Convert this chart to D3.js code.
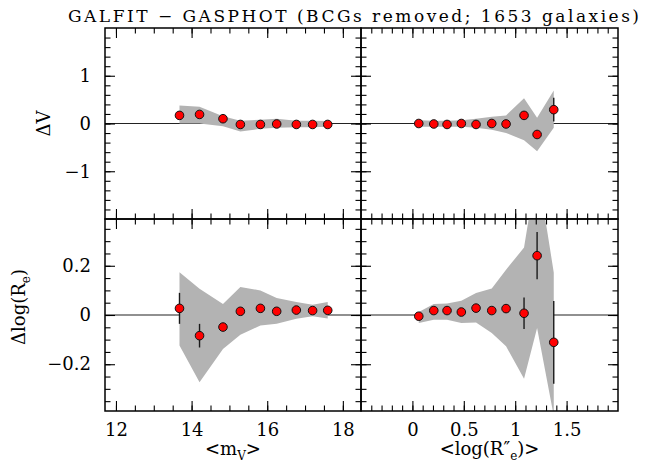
<!DOCTYPE html>
<html><head><meta charset="utf-8">
<script src="https://cdn.jsdelivr.net/npm/d3@7"></script>
<style>
html,body{margin:0;padding:0;background:#fff;}
svg text{font-family:"DejaVu Serif",serif;fill:#000;}
</style></head>
<body>
<svg id="c" width="656" height="470"></svg>
<script>
// ---------------- data ----------------
const titleText = "GALFIT \u2212 GASPHOT (BCGs removed; 1653 galaxies)";

// x bins
const mV    = [13.68, 14.21, 14.83, 15.29, 15.82, 16.25, 16.77, 17.20, 17.60];
const logRe = [0.062, 0.208, 0.337, 0.476, 0.619, 0.772, 0.911, 1.086, 1.213, 1.375];

// Delta V vs m_V
const dV_mV      = [0.17, 0.19, 0.10, -0.02, -0.02, -0.01, -0.02, -0.02, -0.02];
const dV_mV_hi   = [0.377, 0.35, 0.15, 0.06, 0.08, 0.10, 0.06, 0.06, 0.05];
const dV_mV_lo   = [0.0, 0.0, -0.06, -0.17, -0.11, -0.09, -0.08, -0.08, -0.07];
const dV_mV_err  = [0.02, 0.02, 0.02, 0.01, 0.01, 0.01, 0.01, 0.01, 0.01];

// Delta V vs log Re
const dV_lr      = [0.0, -0.01, -0.02, 0.0, -0.02, 0.0, -0.01, 0.17, -0.23, 0.29];
const dV_lr_hi   = [0.07, 0.06, 0.06, 0.07, 0.10, 0.14, 0.17, 0.53, 0.12, 0.69];
const dV_lr_lo   = [-0.07, -0.07, -0.07, -0.07, -0.09, -0.13, -0.20, -0.35, -0.58, -0.09];
const dV_lr_err  = [0.01, 0.01, 0.01, 0.01, 0.01, 0.01, 0.01, 0.03, 0.06, 0.25];

// Delta log Re vs m_V
const dR_mV      = [0.027, -0.084, -0.049, 0.015, 0.027, 0.015, 0.020, 0.018, 0.019];
const dR_mV_hi   = [0.174, 0.107, 0.045, 0.114, 0.100, 0.069, 0.053, 0.042, 0.053];
const dR_mV_lo   = [-0.124, -0.273, -0.138, -0.080, -0.043, -0.036, -0.015, -0.005, -0.014];
const dR_mV_err  = [0.063, 0.048, 0.012, 0.005, 0.005, 0.004, 0.004, 0.004, 0.004];

// Delta log Re vs log Re
const dR_lr      = [-0.005, 0.018, 0.018, 0.012, 0.028, 0.018, 0.026, 0.007, 0.241, -0.111];
const dR_lr_hi   = [0.012, 0.045, 0.047, 0.058, 0.089, 0.108, 0.184, 0.274, 0.60, 0.173];
const dR_lr_lo   = [-0.032, -0.019, -0.019, -0.032, -0.030, -0.073, -0.127, -0.259, -0.053, -0.41];
const dR_lr_err  = [0.004, 0.005, 0.005, 0.005, 0.006, 0.008, 0.018, 0.064, 0.096, 0.168];

// ticks
const xL_major = [12, 14, 16, 18];
const xL_labels = ["12", "14", "16", "18"];
const xR_major = [0, 0.5, 1, 1.5];
const xR_labels = ["0", "0.5", "1", "1.5"];
const yT_major = [-1, 0, 1];
const yT_labels = ["\u22121", "0", "1"];
const yB_major = [-0.2, 0, 0.2];
const yB_labels = ["\u22120.2", "0", "0.2"];
const xL_minor = d3.range(12, 18.01, 0.5);
const xR_minor = d3.range(-0.4, 1.95, 0.1);
const yT_minor = d3.range(-1.8, 1.85, 0.2);
const yB_minor = d3.range(-0.35, 0.36, 0.05);

// ---------------- layout ----------------
const L = 105, M = 361, R = 618, T = 28, MY = 219, B = 411;
const svg = d3.select("#c");

const xL = d3.scaleLinear().domain([11.71, 18.48]).range([L, M]);
const xR = d3.scaleLinear().domain([-0.5, 2.0]).range([M, R]);
const yT = d3.scaleLinear().domain([-2, 2]).range([MY, T]);
const yB = d3.scaleLinear().domain([-0.39, 0.39]).range([B, MY]);

const panels = [
  {id:"p1", x:xL, y:yT, xs:mV,    v:dV_mV, hi:dV_mV_hi, lo:dV_mV_lo, err:dV_mV_err,
   xmaj:xL_major, xmin:xL_minor, ymaj:yT_major, ymin:yT_minor},
  {id:"p2", x:xR, y:yT, xs:logRe, v:dV_lr, hi:dV_lr_hi, lo:dV_lr_lo, err:dV_lr_err,
   xmaj:xR_major, xmin:xR_minor, ymaj:yT_major, ymin:yT_minor},
  {id:"p3", x:xL, y:yB, xs:mV,    v:dR_mV, hi:dR_mV_hi, lo:dR_mV_lo, err:dR_mV_err,
   xmaj:xL_major, xmin:xL_minor, ymaj:yB_major, ymin:yB_minor},
  {id:"p4", x:xR, y:yB, xs:logRe, v:dR_lr, hi:dR_lr_hi, lo:dR_lr_lo, err:dR_lr_err,
   xmaj:xR_major, xmin:xR_minor, ymaj:yB_major, ymin:yB_minor}
];

const defs = svg.append("defs");

panels.forEach(p => {
  const [x0, x1] = p.x.range();
  const [y1, y0] = p.y.range(); // y1 bottom, y0 top
  defs.append("clipPath").attr("id", "clip" + p.id)
    .append("rect").attr("x", x0).attr("y", y0).attr("width", x1 - x0).attr("height", y1 - y0);
  const g = svg.append("g").attr("clip-path", `url(#clip${p.id})`);
  // zero line
  g.append("line").attr("x1", x0).attr("x2", x1)
    .attr("y1", p.y(0)).attr("y2", p.y(0))
    .attr("stroke", "#222").attr("stroke-width", 1.2);
  // band
  const rows = p.xs.map((xv, i) => ({x: xv, v: p.v[i], hi: p.hi[i], lo: p.lo[i], e: p.err[i]}));
  const area = d3.area().x(d => p.x(d.x)).y0(d => p.y(d.lo)).y1(d => p.y(d.hi));
  g.append("path").datum(rows).attr("d", area).attr("fill", "#b3b3b3").attr("stroke", "none");
  // error bars
  g.selectAll("line.eb").data(rows).enter().append("line").attr("class", "eb")
    .attr("x1", d => p.x(d.x)).attr("x2", d => p.x(d.x))
    .attr("y1", d => p.y(d.v - d.e)).attr("y2", d => p.y(d.v + d.e))
    .attr("stroke", "#1a1a1a").attr("stroke-width", 1.4);
  // points
  g.selectAll("circle").data(rows).enter().append("circle")
    .attr("cx", d => p.x(d.x)).attr("cy", d => p.y(d.v)).attr("r", 4.3)
    .attr("fill", "#ff0000").attr("stroke", "#111").attr("stroke-width", 1);

  // ticks on all four sides, inward
  const ax = [];
  ax.push(svg.append("g").attr("transform", `translate(0,${y1})`)
    .call(d3.axisBottom(p.x).tickValues(p.xmaj).tickSize(-10).tickFormat("")));
  ax.push(svg.append("g").attr("transform", `translate(0,${y1})`)
    .call(d3.axisBottom(p.x).tickValues(p.xmin).tickSize(-5.5).tickFormat("")));
  ax.push(svg.append("g").attr("transform", `translate(0,${y0})`)
    .call(d3.axisTop(p.x).tickValues(p.xmaj).tickSize(-10).tickFormat("")));
  ax.push(svg.append("g").attr("transform", `translate(0,${y0})`)
    .call(d3.axisTop(p.x).tickValues(p.xmin).tickSize(-5.5).tickFormat("")));
  ax.push(svg.append("g").attr("transform", `translate(${x0},0)`)
    .call(d3.axisLeft(p.y).tickValues(p.ymaj).tickSize(-10).tickFormat("")));
  ax.push(svg.append("g").attr("transform", `translate(${x0},0)`)
    .call(d3.axisLeft(p.y).tickValues(p.ymin).tickSize(-5.5).tickFormat("")));
  ax.push(svg.append("g").attr("transform", `translate(${x1},0)`)
    .call(d3.axisRight(p.y).tickValues(p.ymaj).tickSize(-10).tickFormat("")));
  ax.push(svg.append("g").attr("transform", `translate(${x1},0)`)
    .call(d3.axisRight(p.y).tickValues(p.ymin).tickSize(-5.5).tickFormat("")));
  ax.forEach(a => {
    a.select(".domain").remove();
    a.selectAll("line").attr("stroke", "#000").attr("stroke-width", 1.1);
  });
  // frame
  svg.append("rect").attr("x", x0).attr("y", y0).attr("width", x1 - x0).attr("height", y1 - y0)
    .attr("fill", "none").attr("stroke", "#000").attr("stroke-width", 1.5);
});

// tick labels
function labelAxis(axisFn, scale, vals, labs, tr, pad) {
  const a = svg.append("g").attr("transform", tr)
    .call(axisFn(scale).tickValues(vals).tickSize(0).tickPadding(pad)
      .tickFormat((d, i) => labs[i]));
  a.select(".domain").remove();
  a.selectAll("text").style("font-family", "DejaVu Serif").style("font-size", "18px").attr("fill", "#000");
}
labelAxis(d3.axisBottom, xL, xL_major, xL_labels, `translate(0,${B})`, 12);
labelAxis(d3.axisBottom, xR, xR_major, xR_labels, `translate(0,${B})`, 12);
labelAxis(d3.axisLeft, yT, yT_major, yT_labels, `translate(${L},0)`, 14);
labelAxis(d3.axisLeft, yB, yB_major, yB_labels, `translate(${L},0)`, 14);

// title
svg.append("text").attr("x", 353.5).attr("y", 21.5).attr("text-anchor", "middle")
  .attr("font-size", 17).attr("textLength", 571).attr("lengthAdjust", "spacing")
  .text(titleText);

// x axis titles
const t1 = svg.append("text").attr("x", (L + M) / 2).attr("y", 455).attr("text-anchor", "middle").attr("font-size", 18);
t1.append("tspan").text("<m");
t1.append("tspan").attr("font-size", 12).attr("dy", 5).text("V");
t1.append("tspan").attr("dy", -5).text(">");

const t2 = svg.append("text").attr("x", (M + R) / 2).attr("y", 455).attr("text-anchor", "middle").attr("font-size", 18);
t2.append("tspan").text("<log(R\u2033");
t2.append("tspan").attr("font-size", 12).attr("dy", 5).text("e");
t2.append("tspan").attr("dy", -5).text(")>");

// y axis titles
svg.append("text").attr("transform", `translate(50,${(T + MY) / 2}) rotate(-90)`)
  .attr("text-anchor", "middle").attr("font-size", 18).text("\u0394V");
const t4 = svg.append("text").attr("transform", `translate(25,307) rotate(-90)`)
  .attr("text-anchor", "middle").attr("font-size", 18);
t4.append("tspan").text("\u0394log(R");
t4.append("tspan").attr("font-size", 12).attr("dy", 5).text("e");
t4.append("tspan").attr("dy", -5).text(")");
</script>
</body></html>
